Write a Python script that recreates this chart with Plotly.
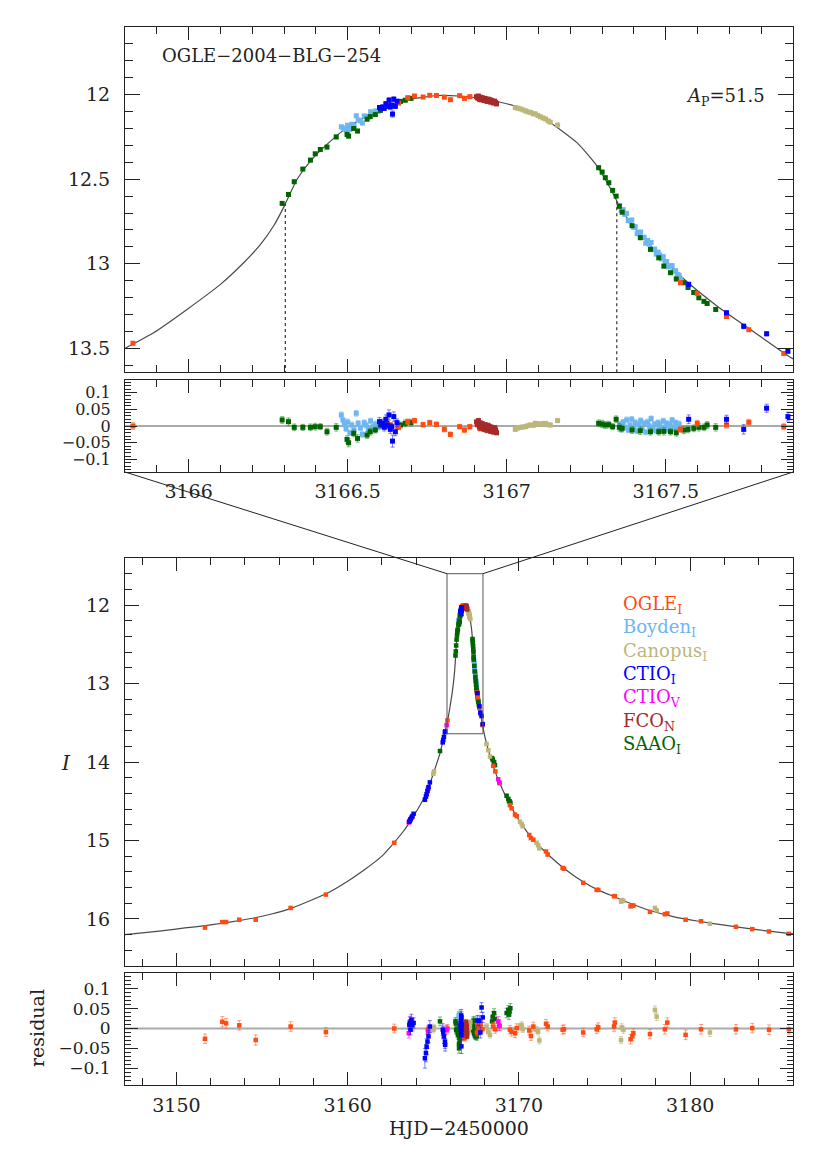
import plotly.graph_objects as go

# ---------------- data ----------------
# OGLE_I
ogle_x = [3151.67, 3152.68, 3152.90, 3153.67, 3154.63, 3156.67, 3158.73, 3162.72, 3163.77, 3164.68,
          3165.825, 3166.634, 3166.660, 3166.689, 3166.710, 3166.737, 3166.758, 3166.779, 3166.804, 3166.823,
          3166.852, 3166.867, 3166.884, 3166.915, 3167.546, 3167.599, 3167.691, 3167.761, 3167.871, 3168.50,
          3168.62, 3168.87, 3169.47, 3169.57, 3169.77, 3169.87, 3170.60, 3170.70, 3170.84, 3171.58,
          3171.68, 3172.55, 3172.63, 3173.75, 3174.54, 3174.63, 3175.55, 3175.60, 3176.52, 3176.62,
          3176.68, 3177.65, 3178.52, 3178.66, 3179.73, 3180.63, 3182.67, 3183.62, 3184.60, 3185.76]
ogle_mag = [16.11, 16.04, 16.04, 16.01, 16.01, 15.86, 15.69, 15.03, 14.70, 14.35,
            13.47, 12.063, 12.050, 12.018, 12.008, 12.014, 12.004, 12.005, 12.015, 12.030,
            12.006, 12.022, 12.012, 12.030, 13.112, 13.175, 13.312, 13.390, 13.530, 14.05,
            14.12, 14.27, 14.55, 14.59, 14.67, 14.69, 14.93, 14.97, 14.99, 15.14,
            15.18, 15.35, 15.36, 15.54, 15.63, 15.63, 15.71, 15.71, 15.84, 15.83,
            15.83, 15.91, 15.94, 15.93, 16.01, 16.03, 16.10, 16.13, 16.16, 16.19]
ogle_err = [0.012, 0.013, 0.012, 0.012, 0.013, 0.012, 0.011, 0.011, 0.010, 0.010,
            0.010, 0.007, 0.007, 0.008, 0.007, 0.007, 0.007, 0.007, 0.008, 0.007,
            0.007, 0.008, 0.007, 0.008, 0.009, 0.009, 0.009, 0.009, 0.009, 0.010,
            0.010, 0.010, 0.011, 0.011, 0.011, 0.011, 0.011, 0.011, 0.011, 0.011,
            0.011, 0.011, 0.011, 0.011, 0.011, 0.011, 0.012, 0.012, 0.012, 0.012,
            0.012, 0.012, 0.012, 0.012, 0.012, 0.012, 0.012, 0.012, 0.012, 0.012]
ogle_res = [-0.026, 0.017, 0.013, 0.008, -0.029, 0.005, -0.009, 0.000, 0.015, -0.003,
            0.000, 0.003, -0.004, 0.013, 0.016, 0.004, 0.010, 0.005, -0.010, -0.025,
            -0.002, -0.012, -0.002, -0.007, -0.010, 0.008, 0.003, 0.011, -0.002, 0.005,
            -0.002, 0.006, -0.003, -0.008, -0.012, 0.001, -0.005, -0.019, 0.005, 0.012,
            0.005, -0.003, -0.002, -0.010, -0.002, 0.003, 0.005, 0.015, -0.027, -0.019,
            -0.012, -0.014, -0.002, 0.015, -0.016, -0.002, -0.002, 0.001, -0.003, -0.002]

# Boyden_I
boyden_x = [3166.480, 3166.485, 3166.490, 3166.495, 3166.500, 3166.507, 3166.513, 3166.520, 3166.527, 3166.533,
            3166.540, 3166.546, 3166.552, 3166.558, 3166.565, 3166.572, 3166.580, 3166.588, 3166.596,
            3167.355, 3167.360, 3167.366, 3167.371, 3167.377, 3167.382, 3167.388, 3167.393, 3167.399, 3167.404,
            3167.410, 3167.415, 3167.421, 3167.426, 3167.432, 3167.437, 3167.443, 3167.448, 3167.454, 3167.459,
            3167.465, 3167.470, 3167.476, 3167.481, 3167.487, 3167.492, 3167.498, 3167.503, 3167.509, 3167.514,
            3167.520, 3167.525, 3167.531, 3167.536, 3167.542, 3167.547]
boyden_mag = [12.190, 12.197, 12.202, 12.207, 12.181, 12.205, 12.175, 12.183, 12.125, 12.149,
              12.155, 12.168, 12.126, 12.128, 12.132, 12.101, 12.111, 12.096, 12.099,
              12.656, 12.685, 12.680, 12.708, 12.702, 12.745, 12.746, 12.741, 12.784, 12.781,
              12.822, 12.813, 12.813, 12.845, 12.843, 12.879, 12.862, 12.884, 12.874, 12.916,
              12.913, 12.943, 12.931, 12.949, 12.971, 12.958, 12.989, 12.987, 13.019, 13.013,
              13.011, 13.045, 13.041, 13.063, 13.067, 13.093]
boyden_err = [0.009, 0.008, 0.009, 0.008, 0.009, 0.008, 0.009, 0.008, 0.009, 0.008,
              0.008, 0.009, 0.008, 0.008, 0.009, 0.008, 0.008, 0.009, 0.008,
              0.008, 0.009, 0.008, 0.008, 0.009, 0.008, 0.009, 0.008, 0.008, 0.009,
              0.008, 0.009, 0.008, 0.008, 0.009, 0.008, 0.009, 0.008, 0.008, 0.009,
              0.008, 0.009, 0.008, 0.008, 0.009, 0.008, 0.009, 0.008, 0.008, 0.009,
              0.008, 0.009, 0.008, 0.008, 0.009, 0.008]
boyden_res = [0.033, 0.018, 0.005, -0.008, 0.012, -0.020, 0.003, -0.012, 0.038, 0.008,
              -0.006, -0.025, 0.010, 0.002, -0.010, 0.015, -0.002, 0.006, -0.004,
              0.005, -0.010, 0.012, -0.004, 0.018, -0.012, 0.002, 0.020, -0.008, 0.010,
              -0.015, 0.004, 0.016, -0.006, 0.008, -0.018, 0.012, 0.000, 0.022, -0.010,
              0.006, -0.014, 0.010, 0.002, -0.008, 0.015, -0.004, 0.008, -0.012, 0.004,
              0.018, -0.006, 0.010, -0.002, 0.006, -0.010]

# Canopus_I
canopus_x = [3165.00, 3165.04, 3167.027, 3167.035, 3167.043, 3167.051, 3167.059, 3167.067, 3167.075, 3167.083,
             3167.090, 3167.098, 3167.106, 3167.114, 3167.122, 3167.130, 3167.137, 3167.160, 3168.11, 3168.21,
             3168.31, 3170.06, 3170.16, 3170.22, 3171.03, 3171.12, 3171.19, 3175.96, 3176.00, 3176.10,
             3177.94, 3178.04, 3181.15]
canopus_mag = [14.15, 14.12, 12.077, 12.080, 12.084, 12.090, 12.096, 12.102, 12.105, 12.113,
               12.114, 12.123, 12.131, 12.138, 12.144, 12.155, 12.163, 12.180, 13.77, 13.85,
               13.93, 14.76, 14.79, 14.82, 15.03, 15.06, 15.10, 15.78, 15.76, 15.77,
               15.86, 15.89, 16.06]
canopus_err = [0.008, 0.008, 0.005, 0.005, 0.005, 0.005, 0.005, 0.005, 0.005, 0.005,
               0.005, 0.005, 0.005, 0.005, 0.005, 0.005, 0.005, 0.006, 0.008, 0.008,
               0.008, 0.008, 0.008, 0.008, 0.008, 0.008, 0.009, 0.009, 0.009, 0.009,
               0.010, 0.010, 0.010]
canopus_res = [-0.003, 0.003, -0.010, -0.006, -0.004, -0.003, -0.002, 0.001, 0.003, 0.002,
               0.008, 0.006, 0.006, 0.007, 0.008, 0.004, 0.003, 0.016, 0.005, -0.008,
               -0.016, 0.005, 0.009, -0.002, -0.003, -0.008, -0.030, -0.029, 0.003, -0.003,
               0.047, 0.030, -0.010]

# CTIO_I
ctioi_x = [3163.60, 3163.63, 3163.67, 3163.72, 3163.78, 3163.85, 3164.51, 3164.57, 3164.61, 3164.66,
           3164.72, 3164.80, 3165.55, 3165.58, 3165.62, 3165.68, 3165.69, 3166.600, 3166.605, 3166.610,
           3166.615, 3166.620, 3166.625, 3166.630, 3166.634, 3166.638, 3166.641, 3166.645, 3166.650, 3166.655,
           3167.572, 3167.691, 3167.745, 3167.817, 3167.884]
ctioi_mag = [14.76, 14.75, 14.73, 14.71, 14.69, 14.66, 14.48, 14.44, 14.41, 14.37,
             14.32, 14.26, 13.75, 13.72, 13.68, 13.62, 13.61, 12.076, 12.080, 12.073,
             12.081, 12.054, 12.068, 12.033, 12.073, 12.062, 12.115, 12.027, 12.069, 12.039,
             13.122, 13.290, 13.370, 13.414, 13.517]
ctioi_err = [0.012, 0.015, 0.013, 0.014, 0.015, 0.013, 0.025, 0.022, 0.020, 0.018,
             0.016, 0.015, 0.015, 0.016, 0.018, 0.017, 0.016, 0.012, 0.010, 0.012,
             0.011, 0.013, 0.010, 0.015, 0.012, 0.010, 0.018, 0.014, 0.012, 0.011,
             0.013, 0.012, 0.014, 0.012, 0.013]
ctioi_res = [0.009, 0.014, -0.003, 0.022, 0.009, 0.014, -0.075, -0.062, -0.046, -0.033,
             -0.020, 0.005, -0.003, -0.010, -0.020, -0.033, -0.041, 0.013, 0.005, 0.008,
             -0.004, 0.020, 0.002, 0.033, -0.010, -0.002, -0.045, 0.028, -0.017, 0.010,
             0.020, 0.020, -0.010, 0.053, 0.028]

# CTIO_V
ctiov_x = [3163.57, 3163.66, 3164.70, 3165.78, 3168.79, 3168.85]
ctiov_mag = [14.77, 14.73, 14.34, 13.53, 14.22, 14.26]
ctiov_err = [0.012, 0.013, 0.012, 0.011, 0.012, 0.013]
ctiov_res = [-0.012, 0.018, -0.008, -0.003, 0.018, 0.008]

# FCO_N
fco_x = [3166.905, 3166.908, 3166.911, 3166.914, 3166.917, 3166.920, 3166.923, 3166.926, 3166.929, 3166.932, 3166.935,
         3166.938, 3166.941, 3166.944, 3166.947, 3166.950, 3166.953, 3166.956, 3166.959, 3166.962, 3166.965, 3166.968]
fco_mag = [12.012, 12.020, 12.008, 12.025, 12.015, 12.030, 12.018, 12.027, 12.035, 12.022, 12.031,
           12.040, 12.026, 12.038, 12.030, 12.045, 12.034, 12.042, 12.050, 12.038, 12.046, 12.055]
fco_err = [0.006, 0.006, 0.007, 0.006, 0.006, 0.007, 0.006, 0.006, 0.007, 0.006, 0.006,
           0.007, 0.006, 0.006, 0.007, 0.006, 0.006, 0.007, 0.006, 0.006, 0.007, 0.006]
fco_res = [0.012, 0.004, 0.016, -0.002, 0.009, -0.006, 0.007, -0.002, -0.010, 0.004, -0.004,
           -0.013, 0.002, -0.010, -0.002, -0.016, -0.004, -0.011, -0.018, -0.005, -0.012, -0.020]

# SAAO_I
saao_x = [3165.39, 3166.294, 3166.314, 3166.332, 3166.359, 3166.383, 3166.398, 3166.414, 3166.435, 3166.464,
          3166.498, 3166.503, 3166.519, 3166.531, 3166.561, 3166.571, 3166.587, 3166.603, 3166.624, 3166.666,
          3166.681, 3166.699, 3167.289, 3167.300, 3167.310, 3167.321, 3167.333, 3167.344, 3167.354, 3167.363,
          3167.394, 3167.420, 3167.452, 3167.478, 3167.494, 3167.515, 3167.533, 3167.557, 3167.570, 3167.588,
          3167.604, 3167.620, 3167.630, 3167.657, 3168.43, 3168.47, 3168.55, 3168.60, 3169.28, 3169.38,
          3169.42, 3169.45, 3169.50]
saao_mag = [13.86, 12.643, 12.590, 12.515, 12.440, 12.387, 12.350, 12.324, 12.310, 12.250,
            12.235, 12.245, 12.200, 12.215, 12.145, 12.130, 12.118, 12.093, 12.068, 12.040,
            12.033, 12.022, 12.432, 12.458, 12.491, 12.521, 12.566, 12.600, 12.660, 12.695,
            12.775, 12.846, 12.915, 12.965, 13.014, 13.053, 13.090, 13.112, 13.140, 13.170,
            13.201, 13.222, 13.235, 13.270, 13.95, 13.97, 14.00, 14.04, 14.43, 14.47,
            14.50, 14.50, 14.52]
saao_err = [0.011, 0.010, 0.011, 0.010, 0.009, 0.010, 0.010, 0.009, 0.010, 0.011,
            0.011, 0.012, 0.010, 0.011, 0.010, 0.010, 0.009, 0.010, 0.010, 0.009,
            0.010, 0.010, 0.010, 0.011, 0.010, 0.010, 0.009, 0.010, 0.011, 0.010,
            0.010, 0.011, 0.010, 0.010, 0.011, 0.010, 0.010, 0.011, 0.010, 0.010,
            0.011, 0.010, 0.010, 0.011, 0.011, 0.012, 0.011, 0.011, 0.012, 0.011,
            0.012, 0.011, 0.012]
saao_res = [0.018, 0.018, 0.013, -0.004, -0.004, -0.004, -0.002, -0.002, -0.017, -0.004,
            -0.040, -0.050, -0.022, -0.037, -0.027, -0.017, -0.012, 0.003, 0.008, 0.003,
            0.008, 0.010, 0.008, 0.006, 0.003, 0.004, -0.002, 0.020, -0.004, -0.007,
            -0.012, -0.014, -0.017, -0.017, -0.016, -0.017, -0.020, -0.012, -0.010, -0.007,
            -0.004, -0.004, 0.003, -0.004, 0.018, 0.030, 0.039, 0.024, 0.039, 0.047,
            0.035, 0.043, 0.051]

# best-fit model curve
model_x = [3147.0, 3149.0, 3150.5, 3151.7, 3152.7, 3153.7, 3154.6, 3155.5, 3156.7, 3158.0,
           3159.0, 3160.0, 3161.0, 3162.0, 3162.7, 3163.3, 3163.7, 3164.2, 3164.6, 3165.0,
           3165.4, 3165.6, 3165.80, 3165.89, 3165.995, 3166.10, 3166.173, 3166.226, 3166.267, 3166.299,
           3166.314, 3166.341, 3166.383, 3166.435, 3166.498, 3166.571, 3166.624, 3166.697, 3166.781, 3166.85,
           3166.928, 3167.033, 3167.137, 3167.221, 3167.284, 3167.326, 3167.347, 3167.368, 3167.41, 3167.473,
           3167.557, 3167.662, 3167.766, 3167.871, 3167.90, 3168.1, 3168.3, 3168.5, 3168.8, 3169.3,
           3169.8, 3170.3, 3170.8, 3171.6, 3172.6, 3173.7, 3174.6, 3175.6, 3176.6, 3177.6,
           3179.0, 3180.5, 3182.0, 3184.0, 3186.0]
model_mag = [16.20, 16.155, 16.115, 16.085, 16.055, 16.02, 15.985, 15.94, 15.865, 15.75,
             15.65, 15.52, 15.37, 15.20, 15.03, 14.87, 14.74, 14.56, 14.40, 14.15,
             13.88, 13.70, 13.50, 13.408, 13.27, 13.122, 12.994, 12.886, 12.777, 12.665,
             12.605, 12.50, 12.393, 12.294, 12.195, 12.117, 12.071, 12.028, 12.005, 12.008,
             12.024, 12.071, 12.166, 12.284, 12.422, 12.555, 12.632, 12.70, 12.807, 12.935,
             13.09, 13.251, 13.389, 13.527, 13.562, 13.76, 13.91, 14.05, 14.23, 14.47,
             14.67, 14.84, 14.98, 15.16, 15.35, 15.52, 15.63, 15.72, 15.81, 15.89,
             15.97, 16.03, 16.08, 16.14, 16.19]

# source-limb crossing times (dotted markers in the zoom panel)
crossing_t = [3166.304, 3167.346]
crossing_mag = [12.64, 12.63]

# axis ranges and tick labels
zoom_xrange = [3165.80, 3167.90]
zoom_yrange = [13.64, 11.60]
full_xrange = [3147.0, 3186.0]
full_yrange = [16.60, 11.40]
res1_yrange = [-0.137, 0.137]
res2_yrange = [-0.1425, 0.14]
zoom_tickvals = [3166, 3166.5, 3167, 3167.5]
zoom_ticktext = ["3166", "3166.5", "3167", "3167.5"]
full_tickvals = [3150, 3160, 3170, 3180]
full_ticktext = ["3150", "3160", "3170", "3180"]
res_tickvals = [-0.1, -0.05, 0, 0.05, 0.1]
res_ticktext = ["\u22120.1", "\u22120.05", "0", "0.05", "0.1"]

series = [
    ("Boyden", "I", boyden_x, boyden_mag, boyden_err, boyden_res, "#6db6f2", "rgba(109,182,242,0.55)"),
    ("SAAO", "I", saao_x, saao_mag, saao_err, saao_res, "#006400", "rgba(40,140,40,0.6)"),
    ("Canopus", "I", canopus_x, canopus_mag, canopus_err, canopus_res, "#bdb67a", "rgba(189,182,122,0.6)"),
    ("OGLE", "I", ogle_x, ogle_mag, ogle_err, ogle_res, "#ff4a10", "rgba(255,100,50,0.6)"),
    ("FCO", "N", fco_x, fco_mag, fco_err, fco_res, "#a52a2a", "rgba(165,42,42,0.55)"),
    ("CTIO", "V", ctiov_x, ctiov_mag, ctiov_err, ctiov_res, "#ff00ff", "rgba(255,0,255,0.55)"),
    ("CTIO", "I", ctioi_x, ctioi_mag, ctioi_err, ctioi_res, "#0000ff", "rgba(40,40,255,0.6)"),
]
legend_order = [("OGLE", "I", "#ff4a10"), ("Boyden", "I", "#6db6f2"), ("Canopus", "I", "#bdb67a"),
                ("CTIO", "I", "#0000ff"), ("CTIO", "V", "#ff00ff"), ("FCO", "N", "#a52a2a"),
                ("SAAO", "I", "#006400")]

# ---------------- layout helpers ----------------
# the page body adds an 8px offset; the figure is sized so the plot lands where the reference has it
W, H = 822, 1144
OFF = 8
PL, PR, PT, PB = 125, 793, 27, 1085          # plot area in window pixels
ML, MR, MT, MB = PL - OFF, W + OFF - PR, PT - OFF, H + OFF - PB
PW, PH = PR - PL, PB - PT


def fx(px):
    return (px - PL) / PW


def fy(py):
    return (PB - py) / PH


dom_top = [fy(372), 1.0]
dom_res1 = [fy(472), fy(380)]
dom_main = [fy(966), fy(558)]
dom_res2 = [0.0, fy(973)]

FONT = "DejaVu Serif"
INK = "#222222"

fig = go.Figure()

# model curves
for xa, ya in (("x", "y"), ("x3", "y3")):
    fig.add_trace(go.Scatter(x=model_x, y=model_mag, mode="lines", xaxis=xa, yaxis=ya,
                             line=dict(color="#4a4a4a", width=1.2, shape="spline", smoothing=0.5),
                             hoverinfo="skip", showlegend=False))

for name, band, xs, mags, errs, res, col, ecol in series:
    for xa, ya, yv, msz in (("x", "y", mags, 5), ("x3", "y3", mags, 4.5),
                            ("x2", "y2", res, 5), ("x4", "y4", res, 4.5)):
        fig.add_trace(go.Scatter(
            x=xs, y=yv, mode="markers", xaxis=xa, yaxis=ya, showlegend=False,
            marker=dict(color=col, size=msz, symbol="square", line=dict(width=0)),
            error_y=dict(type="data", array=errs, visible=True, color=ecol, thickness=1, width=2),
            name=name + "_" + band))

axis_common = dict(showline=True, linecolor=INK, linewidth=1, mirror="allticks", ticks="inside",
                   tickcolor=INK, tickwidth=1, showgrid=False, zeroline=False,
                   tickfont=dict(family=FONT, size=19, color=INK))
res_font = dict(family=FONT, size=16, color=INK)


def minor(dt, ln):
    return dict(ticks="inside", dtick=dt, ticklen=ln, tickcolor=INK, tickwidth=1, showgrid=False)


fig.update_layout(
    width=W, height=H, margin=dict(l=ML, r=MR, t=MT, b=MB, autoexpand=False),
    paper_bgcolor="white", plot_bgcolor="white", showlegend=False,
    xaxis=dict(axis_common, domain=[0, 1], anchor="y", range=zoom_xrange, tickmode="array",
               tickvals=zoom_tickvals, ticktext=zoom_ticktext,
               ticklen=13, minor=minor(0.1, 7), showticklabels=False),
    yaxis=dict(axis_common, domain=dom_top, anchor="x", range=zoom_yrange, tick0=12, dtick=0.5,
               ticklen=15, minor=minor(0.1, 8), ticklabelstandoff=10),
    xaxis2=dict(axis_common, domain=[0, 1], anchor="y2", matches="x", range=zoom_xrange, tickmode="array",
                tickvals=zoom_tickvals, ticktext=zoom_ticktext,
                ticklen=13, minor=minor(0.1, 7), ticklabelstandoff=2),
    yaxis2=dict(axis_common, domain=dom_res1, anchor="x2", range=res1_yrange, tickmode="array",
                tickvals=res_tickvals, ticktext=res_ticktext, tickfont=res_font,
                ticklen=12, minor=minor(0.01, 6), ticklabelstandoff=10),
    xaxis3=dict(axis_common, domain=[0, 1], anchor="y3", range=full_xrange, tickmode="array",
                tickvals=full_tickvals, ticktext=full_ticktext,
                ticklen=13, minor=minor(2, 7), showticklabels=False),
    yaxis3=dict(axis_common, domain=dom_main, anchor="x3", range=full_yrange, tick0=12, dtick=1,
                ticklen=14, minor=minor(0.2, 7), ticklabelstandoff=10),
    xaxis4=dict(axis_common, domain=[0, 1], anchor="y4", matches="x3", range=full_xrange, tickmode="array",
                tickvals=full_tickvals, ticktext=full_ticktext,
                ticklen=13, minor=minor(2, 7), ticklabelstandoff=3),
    yaxis4=dict(axis_common, domain=dom_res2, anchor="x4", range=res2_yrange, tickmode="array",
                tickvals=res_tickvals, ticktext=res_ticktext, tickfont=dict(res_font, size=17),
                ticklen=13, minor=minor(0.01, 6), ticklabelstandoff=10),
)

shapes = []
# zero lines of residual panels
shapes.append(dict(type="line", xref="x2 domain", yref="y2", x0=0, x1=1, y0=0, y1=0,
                   line=dict(color="#555555", width=1), layer="below"))
shapes.append(dict(type="line", xref="x4 domain", yref="y4", x0=0, x1=1, y0=0, y1=0,
                   line=dict(color="#aaaaaa", width=2), layer="below"))
# dotted crossing markers
for t, m in zip(crossing_t, crossing_mag):
    shapes.append(dict(type="line", xref="x", yref="y", x0=t, x1=t, y0=m, y1=zoom_yrange[0],
                       line=dict(color="#333333", width=1.2, dash="3px,3px")))
# zoom box in main panel
shapes.append(dict(type="rect", xref="x3", yref="y3", x0=zoom_xrange[0], x1=zoom_xrange[1],
                   y0=zoom_yrange[1], y1=zoom_yrange[0], line=dict(color="#555555", width=1)))


def main_paper(xv, yv):
    px = (xv - full_xrange[0]) / (full_xrange[1] - full_xrange[0])
    frac = (full_yrange[0] - yv) / (full_yrange[0] - full_yrange[1])
    return px, dom_main[0] + frac * (dom_main[1] - dom_main[0])


bl = main_paper(zoom_xrange[0], zoom_yrange[1])
br = main_paper(zoom_xrange[1], zoom_yrange[1])
shapes.append(dict(type="line", xref="paper", yref="paper", x0=0, y0=dom_res1[0], x1=bl[0], y1=bl[1],
                   line=dict(color="#222222", width=1)))
shapes.append(dict(type="line", xref="paper", yref="paper", x0=1, y0=dom_res1[0], x1=br[0], y1=br[1],
                   line=dict(color="#222222", width=1)))
fig.update_layout(shapes=shapes)

ann = []
ann.append(dict(text="OGLE\u22122004\u2212BLG\u2212254", xref="paper", yref="paper", x=fx(160), y=fy(55),
                xanchor="left", yanchor="middle", showarrow=False, font=dict(family=FONT, size=18, color=INK)))
ann.append(dict(text="<i>A</i><sub>P</sub>=51.5", xref="paper", yref="paper", x=fx(767), y=fy(97),
                xanchor="right", yanchor="middle", showarrow=False, font=dict(family=FONT, size=18, color=INK)))
for i, (nm, bd, col) in enumerate(legend_order):
    ann.append(dict(text=nm + "<sub>" + bd + "</sub>", xref="paper", yref="paper", x=fx(621),
                    y=fy(605 + i * 23.3), xanchor="left", yanchor="middle", showarrow=False,
                    font=dict(family=FONT, size=18, color=col)))
ann.append(dict(text="<i>I</i>", xref="paper", yref="paper", x=fx(66), y=fy(763), xanchor="center",
                yanchor="middle", showarrow=False, font=dict(family=FONT, size=20, color=INK)))
ann.append(dict(text="residual", xref="paper", yref="paper", x=fx(37), y=fy(1028), xanchor="center",
                yanchor="middle", textangle=-90, showarrow=False, font=dict(family=FONT, size=19, color=INK)))
ann.append(dict(text="HJD\u22122450000", xref="paper", yref="paper", x=fx(459), y=fy(1128),
                xanchor="center", yanchor="middle", showarrow=False, font=dict(family=FONT, size=19, color=INK)))
fig.update_layout(annotations=ann)

fig.write_html("out.html")
